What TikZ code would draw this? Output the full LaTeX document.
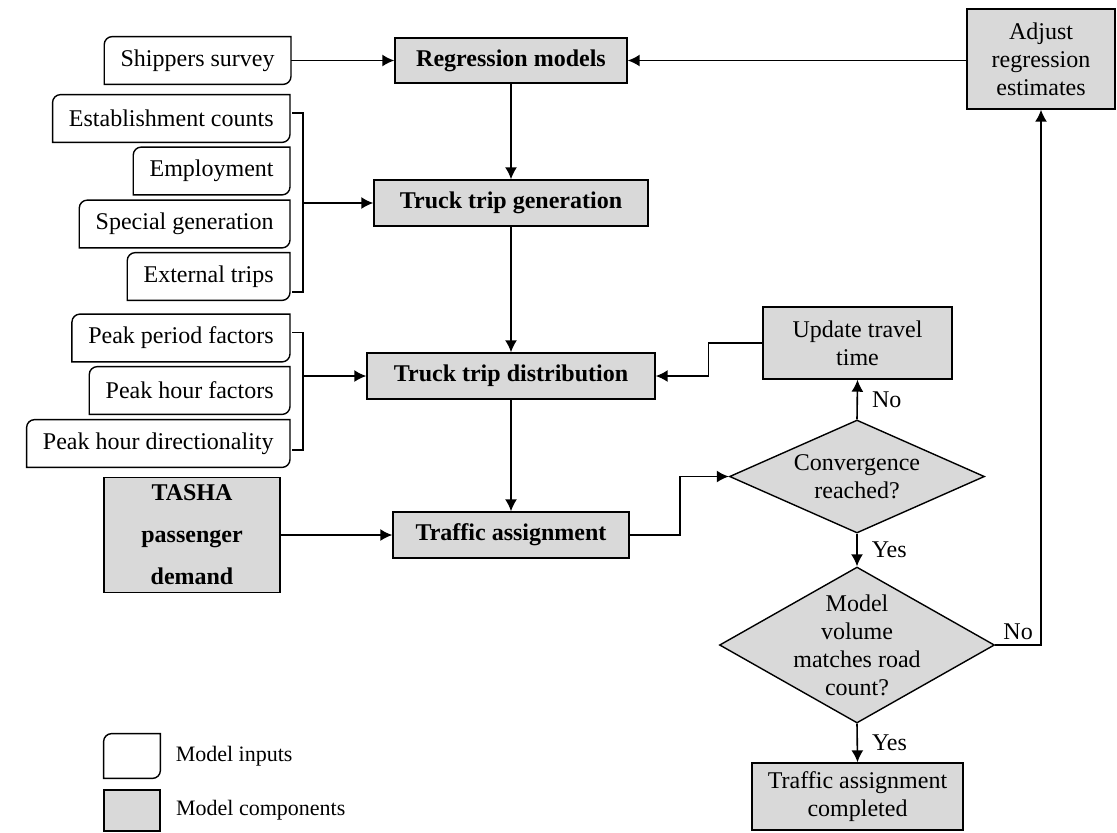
\documentclass[tikz,border=0pt]{standalone}
\usepackage{fontspec}
\setmainfont{Liberation Serif}
\usetikzlibrary{arrows.meta,shapes.geometric,positioning}
\tikzstyle{component} = [draw, fill=gray!30, line width=0.7pt, align=center,
  inner sep=2pt, font=\fontsize{12}{14}\selectfont]
\tikzstyle{modelinput} = [anchor=east, inner xsep=8pt, inner ysep=0pt,
  minimum height=23.5pt, font=\fontsize{12}{14}\selectfont]
\tikzstyle{decision} = [diamond, draw, fill=gray!30, line width=0.7pt,
  align=center, inner sep=0pt, font=\fontsize{12}{14}\selectfont]
\tikzstyle{line} = [draw, line width=0.8pt, color=black,
  -{Latex[length=6pt,width=6pt]}]
\tikzstyle{answer} = [inner sep=2pt, font=\fontsize{12}{14}\selectfont]
\tikzstyle{legendtext} = [inner sep=0pt, font=\fontsize{11}{13}\selectfont]
\newcommand{\mcomp}[3]{node (c#1) [component,#2] {#3}}
\newcommand{\minput}[2]{node (i#1) [modelinput] {#2}}
\newcommand{\inputframe}[1]{%
  % Rounded top-left and bottom-right corners, square elsewhere
  \draw [line width=0.7pt] (#1.south) [sharp corners] -| (#1.west)
    [rounded corners=4pt] |- (#1.north) [sharp corners] -| (#1.east)
    [rounded corners=4pt] |- (#1.south);}
\newcommand{\inputgroup}[4]{%
  % Bar that gathers the inputs #1 to #2
  \draw [line width=0.8pt] ([xshift=1pt,yshift=2.75pt]#1.east) -- ++(5.5pt,0)
    coordinate (#1bar) |- ([xshift=1pt,yshift=#4]#2.east);
  % Arrow from the bar to the component
  \path [line] (#1bar |- #3.west) -- (#3.west);}

\begin{document}
\begin{tikzpicture}[x=0.5pt, y=-0.5pt]
\useasboundingbox (0,0) rectangle (1117,832);

% Main chain of model components
\path (511,60.5) \mcomp{1}{minimum width=116pt, minimum height=22.5pt}{\textbf{Regression models}};
\path (c1)+(0,142.5) \mcomp{2}{minimum width=137pt, minimum height=23pt}{\textbf{Truck trip generation}};
\path (c2)+(0,173) \mcomp{3}{minimum width=144pt, minimum height=23pt}{\textbf{Truck trip distribution}};
\path (c3)+(0,159) \mcomp{4}{minimum width=118pt, minimum height=23pt}{\textbf{Traffic assignment}};
\path (c4)+(-319,0) \mcomp{5}{minimum width=88pt, minimum height=57.5pt,
  font=\fontsize{12}{21}\selectfont\bfseries}{TASHA\\passenger\\demand};

% Calibration loop
\path (857.5,343) \mcomp{6}{minimum width=94.5pt, minimum height=36pt}{Update travel\\time};
\path (857,476.5) node (d1) [decision, minimum width=127.5pt, minimum height=56.5pt,
  aspect=2.25] {Convergence\\reached?};
\path (d1)+(0,168.5) node (d2) [decision, minimum width=137.5pt, minimum height=78pt,
  aspect=1.76, inner sep=-5pt] {Model\\volume\\matches road\\count?};
\path (1041,59) \mcomp{7}{minimum width=74pt, minimum height=50pt}{Adjust\\regression\\estimates};
\path (d2)+(0.5,151.5) \mcomp{8}{minimum width=105.5pt, minimum height=33.5pt}{Traffic assignment\\completed};

% Model inputs
\path (291,60.5) \minput{1}{Shippers survey};
\path (290,118.5) \minput{2}{Establishment counts};
\path (i2.east)+(0,52.5) \minput{3}{Employment};
\path (i3.east)+(0,53) \minput{4}{Special generation};
\path (i4.east)+(0,52.5) \minput{5}{External trips};
\path (i5.east)+(0,61.5) \minput{6}{Peak period factors};
\path (i6.east)+(0,52.5) \minput{7}{Peak hour factors};
\path (i7.east)+(0,53) \minput{8}{Peak hour directionality};

\inputframe{i1}
\inputframe{i2}
\inputframe{i3}
\inputframe{i4}
\inputframe{i5}
\inputframe{i6}
\inputframe{i7}
\inputframe{i8}

% Draw arrows between elements
\path [line] (i1.east) -- (c1.west);
\path [line] (c1.south) -- (c2.north);
\path [line] (c2.south) -- (c3.north);
\path [line] (c3.south) -- (c4.north);
\path [line] (c5.east) -- (c4.west);
\path [line] (c4.east) -- ++(25pt,0) |- (d1.west);
\path [line] (d1.north) -- node [answer, right=5pt] {No} (c6.south);
\path [line] (c6.west) -- ++(-27pt,0) |- (c3.east);
\path [line] (d1.south) -- node [answer, right=5pt] {Yes} (d2.north);
\path [line] (d2.east) -| node [answer, above, pos=0.25] {No} (c7.south);
\path [line] (c7.west |- c1) -- (c1.east);
\path [line] (d2.south) -- node [answer, right=5pt] {Yes} (c8.north);

\inputgroup{i2}{i5}{c2}{-7.75pt}
\inputgroup{i6}{i8}{c3}{-3.25pt}

% Legend
\path (132,756) node (l1) [modelinput, anchor=center, minimum width=28pt,
  minimum height=22pt, inner sep=0pt] {};
\inputframe{l1}
\path (132,810.5) node (l2) [component, minimum width=28pt, minimum height=20.5pt,
  inner sep=0pt] {};
\node (t1) [legendtext, right=7.5pt of l1] {Model inputs};
\node (t2) [legendtext, right=7.5pt of l2] {Model components};

\end{tikzpicture}
\end{document}
